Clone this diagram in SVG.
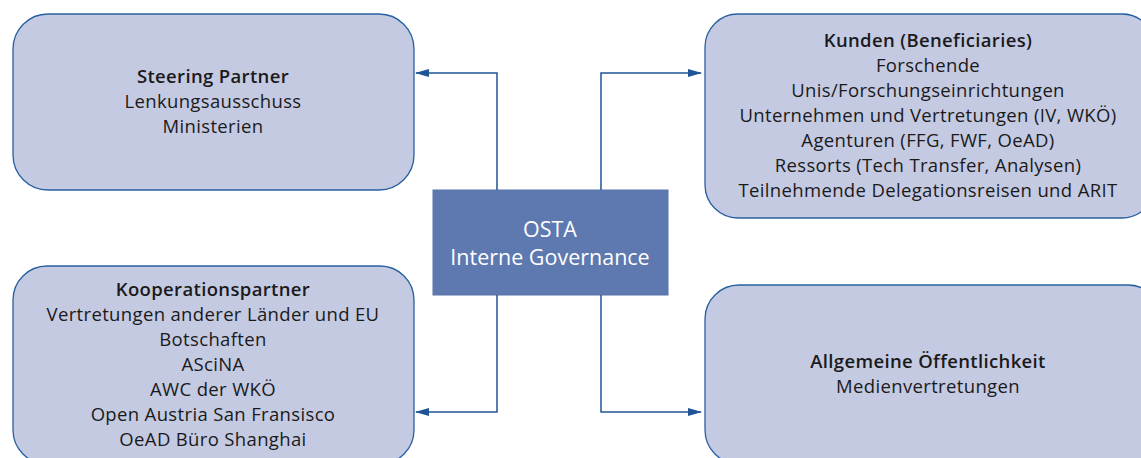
<svg xmlns="http://www.w3.org/2000/svg" width="1141" height="458" viewBox="0 0 1141 458">
<style>
.box{fill:#c5cae3;stroke:#2760a0;stroke-width:1.3}
.t{font-family:"Open Sans","Liberation Sans",sans-serif;font-size:18.5px;letter-spacing:0.35px;fill:#1a1a1a;text-anchor:middle}
.b{font-weight:600}
.c{fill:none;stroke:#1f5597;stroke-width:1.5}
.w{font-family:"Open Sans","Liberation Sans",sans-serif;font-size:21.5px;fill:#ffffff;text-anchor:middle}
</style>
<defs>
<marker id="ah" markerWidth="14" markerHeight="8" refX="13" refY="4" orient="auto" markerUnits="userSpaceOnUse">
<path d="M0,0 L14,4 L0,8 z" fill="#1f5597"/>
</marker>
</defs>
<rect width="1141" height="458" fill="#ffffff"/>
<g id="steering">
<rect class="box" x="13" y="14" width="401" height="176" rx="35" ry="35"/>
<text class="t b" x="213" y="83">Steering Partner</text>
<text class="t" x="213" y="108">Lenkungsausschuss</text>
<text class="t" x="213" y="133">Ministerien</text>
</g>
<g id="kunden">
<rect class="box" x="705" y="14" width="450" height="204" rx="33" ry="33"/>
<text class="t b" x="928" y="47">Kunden (Beneficiaries)</text>
<text class="t" x="928" y="72">Forschende</text>
<text class="t" x="928" y="97">Unis/Forschungseinrichtungen</text>
<text class="t" x="928" y="122">Unternehmen und Vertretungen (IV, WKÖ)</text>
<text class="t" x="928" y="147">Agenturen (FFG, FWF, OeAD)</text>
<text class="t" x="928" y="172">Ressorts (Tech Transfer, Analysen)</text>
<text class="t" x="928" y="197">Teilnehmende Delegationsreisen und ARIT</text>
</g>
<g id="kooperation">
<rect class="box" x="13" y="266" width="401" height="198" rx="34" ry="34"/>
<text class="t b" x="213" y="296">Kooperationspartner</text>
<text class="t" x="213" y="321">Vertretungen anderer Länder und EU</text>
<text class="t" x="213" y="346">Botschaften</text>
<text class="t" x="213" y="371">ASciNA</text>
<text class="t" x="213" y="396">AWC der WKÖ</text>
<text class="t" x="213" y="421">Open Austria San Fransisco</text>
<text class="t" x="213" y="446">OeAD Büro Shanghai</text>
</g>
<g id="oeffentlichkeit">
<rect class="box" x="705" y="285" width="457" height="179" rx="34" ry="34"/>
<text class="t b" x="928" y="368">Allgemeine Öffentlichkeit</text>
<text class="t" x="928" y="393">Medienvertretungen</text>
</g>
<g id="osta">
<rect x="433" y="190" width="235" height="105" fill="#5e78b0" stroke="#5a74ab" stroke-width="1"/>
<text class="w" x="550" y="237">OSTA</text>
<text class="w" x="550" y="265">Interne Governance</text>
</g>
<g id="connectors">
<path class="c" d="M497,190 V73 H416" marker-end="url(#ah)"/>
<path class="c" d="M601,190 V73 H701" marker-end="url(#ah)"/>
<path class="c" d="M497,295 V412 H416" marker-end="url(#ah)"/>
<path class="c" d="M601,295 V412 H701" marker-end="url(#ah)"/>
</g>
</svg>
